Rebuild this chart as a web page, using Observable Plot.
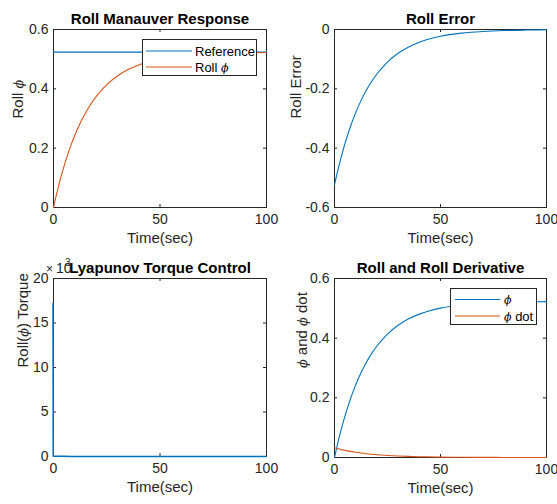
<!DOCTYPE html>
<html><head><meta charset="utf-8">
<script src="https://cdn.jsdelivr.net/npm/d3@7"></script>
<script src="https://cdn.jsdelivr.net/npm/@observablehq/plot@0.6"></script>
<style>
body{margin:0;background:#fff;}
#fig{position:relative;width:557px;height:504px;background:#fff;overflow:hidden;font-family:"Liberation Sans",Arial,Helvetica,sans-serif;color:#262626;}
#fig svg{position:absolute;}
</style></head><body><div id="fig"></div>
<script>
// ---- data ----
const time = [0,1,2,3,4,5,7.5,10,12.5,15,17.5,20,25,30,35,40,45,50,60,70,80,90,100];
const rollPhi = [0,0.0317,0.0615,0.0895,0.1158,0.1405,0.1959,0.2433,0.2839,0.3186,0.3482,0.3736,0.4139,0.4433,0.4648,0.4806,0.4921,0.5006,0.5113,0.5170,0.5201,0.5217,0.5226];
const rollError = [-0.5236,-0.4919,-0.4621,-0.4341,-0.4078,-0.3831,-0.3277,-0.2803,-0.2397,-0.2050,-0.1754,-0.1500,-0.1097,-0.0803,-0.0588,-0.0430,-0.0315,-0.0230,-0.0123,-0.0066,-0.0035,-0.0019,-0.0010];
const phiDot = [0.0327,0.0307,0.0289,0.0271,0.0255,0.0239,0.0205,0.0175,0.0150,0.0128,0.0110,0.0094,0.0069,0.0050,0.0037,0.0027,0.0020,0.0014,0.0008,0.0004,0.0002,0.0001,0.0001];
const refTime = [0,100];
const refValues = [0.5236,0.5236];
const torqueTime = [0,0.1,1,2,5,10,20,50,100];
const torqueValues = [17200,40,30,25,15,10,5,2,1];
const xTicks = [0,50,100];
const yTicksRoll = [0,0.2,0.4,0.6];
const yTicksErr = [-0.6,-0.4,-0.2,0];
const yTicksTorque = [0,5000,10000,15000,20000];
const titles = ["Roll Manauver Response","Roll Error","Lyapunov Torque Control","Roll and Roll Derivative"];
const yLabels = ["Roll ϕ","Roll Error","Roll(ϕ) Torque","ϕ and ϕ dot"];
const xLabel = "Time(sec)";
const legendRoll = ["Reference","Roll ϕ"];
const legendDeriv = ["ϕ","ϕ dot"];
// ---------------------------------------

const blue = "#0072BD", red = "#D95319", ink = "#262626";
const fig = document.getElementById("fig");

function italicPhi(svg){
  d3.select(svg).selectAll("text").each(function(){
    const t = this.textContent;
    if (!t.includes("ϕ")) return;
    const el = d3.select(this);
    el.text(null);
    t.split(/(ϕ)/).filter(s => s.length).forEach(s => {
      const ts = el.append("tspan").text(s);
      if (s === "ϕ") ts.attr("font-style","italic").attr("font-family","DejaVu Serif, serif").attr("font-size","0.85em");
    });
  });
}

function panel({left, top, width, height, mt, mr, mb, ml, yDomain, yTicks, yFormat, series, title, ylabel, ylabelDx}) {
  const fw = width - ml - mr, fh = height - mt - mb, tk = 3;
  const marks = [
    Plot.frame({stroke: ink, strokeWidth: 1}),
    Plot.tickX(xTicks, {x: d => d, insetTop: fh - tk, stroke: ink}),
    Plot.tickX(xTicks, {x: d => d, insetBottom: fh - tk, stroke: ink}),
    Plot.tickY(yTicks, {y: d => d, insetRight: fw - tk, stroke: ink}),
    Plot.tickY(yTicks, {y: d => d, insetLeft: fw - tk, stroke: ink}),
    ...series.map(s => Plot.line(s.x, {x: d => d, y: (d, i) => s.y[i], stroke: s.color, strokeWidth: s.sw || 1.1, dx: s.dx || 0, curve: "monotone-x"})),
    Plot.axisX({ticks: xTicks, tickSize: 0, tickPadding: 7, label: null, tickFormat: d => String(d), fontSize: 14}),
    Plot.axisY({ticks: yTicks, tickSize: 0, tickPadding: 5, label: null, tickFormat: yFormat, fontSize: 14}),
    Plot.text([title], {frameAnchor: "top", dy: -6, lineAnchor: "bottom", fontWeight: "bold", fontSize: 15, fill: "#000"}),
    Plot.text([xLabel], {frameAnchor: "bottom", dy: 31, lineAnchor: "middle", fontSize: 15}),
    Plot.text([ylabel], {frameAnchor: "left", dx: ylabelDx, rotate: -90, lineAnchor: "middle", fontSize: 15})
  ];
  const p = Plot.plot({
    width, height, marginTop: mt, marginRight: mr, marginBottom: mb, marginLeft: ml,
    x: {domain: [0, 100]},
    y: {domain: yDomain},
    style: {background: "transparent", fontFamily: '"Liberation Sans", Arial, Helvetica, sans-serif', color: ink, overflow: "visible"},
    marks
  });
  p.style.position = "absolute";
  p.style.left = left + "px";
  p.style.top = top + "px";
  italicPhi(p);
  fig.appendChild(p);
}

function legend(left, top, w, h, lineX1, lineX2, textX, rows, labels, colors) {
  const s = d3.create("svg").attr("width", w).attr("height", h)
    .style("left", left + "px").style("top", top + "px")
    .attr("font-family", '"Liberation Sans", Arial, sans-serif').attr("font-size", 13);
  s.append("rect").attr("x", 0.5).attr("y", 0.5).attr("width", w - 1).attr("height", h - 1)
    .attr("fill", "white").attr("stroke", ink);
  labels.forEach((lab, i) => {
    s.append("line").attr("x1", lineX1).attr("x2", lineX2).attr("y1", rows[i]).attr("y2", rows[i])
      .attr("stroke", colors[i]).attr("stroke-width", 1.1);
    s.append("text").attr("x", textX).attr("y", rows[i]).attr("dy", "0.35em").attr("fill", "#000").text(lab);
  });
  italicPhi(s.node());
  fig.appendChild(s.node());
}

const fmt = d => String(d);

panel({left: 0, top: 0, width: 280, height: 250, mt: 29, mr: 14, mb: 43, ml: 53,
  yDomain: [0, 0.6], yTicks: yTicksRoll, yFormat: fmt,
  series: [{x: refTime, y: refValues, color: blue}, {x: time, y: rollPhi, color: red}],
  title: titles[0], ylabel: yLabels[0], ylabelDx: -35});

panel({left: 280, top: 0, width: 277, height: 250, mt: 29, mr: 11, mb: 43, ml: 54,
  yDomain: [-0.6, 0], yTicks: yTicksErr, yFormat: fmt,
  series: [{x: time, y: rollError, color: blue}],
  title: titles[1], ylabel: yLabels[1], ylabelDx: -38});

panel({left: 0, top: 250, width: 280, height: 254, mt: 28, mr: 14, mb: 48, ml: 53,
  yDomain: [0, 20000], yTicks: yTicksTorque, yFormat: d => String(d / 1000),
  series: [{x: torqueTime, y: torqueValues, color: blue, sw: 1.5, dx: -0.5}],
  title: titles[2], ylabel: yLabels[2], ylabelDx: -30});

panel({left: 280, top: 250, width: 277, height: 254, mt: 28, mr: 11, mb: 47, ml: 54,
  yDomain: [0, 0.6], yTicks: yTicksRoll, yFormat: fmt,
  series: [{x: time, y: rollPhi, color: blue}, {x: time, y: phiDot, color: red}],
  title: titles[3], ylabel: yLabels[3], ylabelDx: -32});

legend(142, 39, 115, 37, 4, 50, 53, [12, 28], legendRoll, [blue, red]);
legend(450, 288, 87, 37, 5, 50, 54, [11.5, 28], legendDeriv, [blue, red]);

// exponent label of the torque axis
const ex = d3.create("svg").attr("width", 40).attr("height", 30).style("left", "40px").style("top", "252px")
  .attr("font-family", '"Liberation Sans", Arial, sans-serif').attr("fill", ink);
ex.append("text").attr("x", 6).attr("y", 21).attr("font-size", 12).text("×");
ex.append("text").attr("x", 16).attr("y", 21).attr("font-size", 14).text("10");
ex.append("text").attr("x", 25).attr("y", 14).attr("font-size", 10).text("3");
fig.appendChild(ex.node());
</script>
</body></html>
